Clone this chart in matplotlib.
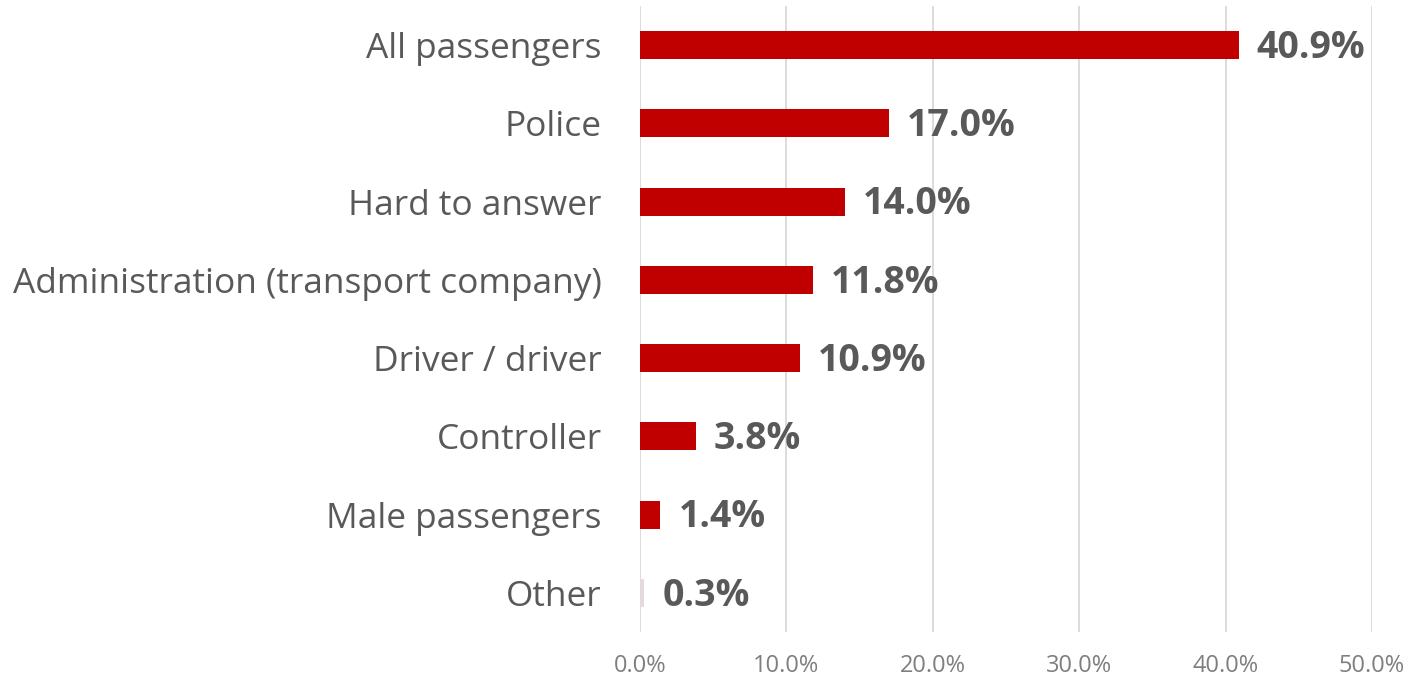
import matplotlib
matplotlib.use("Agg")
import matplotlib.pyplot as plt
from matplotlib.ticker import FuncFormatter

categories = ["All passengers", "Police", "Hard to answer",
              "Administration (transport company)", "Driver / driver",
              "Controller", "Male passengers", "Other"]
values = [40.9, 17.0, 14.0, 11.8, 10.9, 3.8, 1.4, 0.3]
bar_colors = ["#C00000"] * 7 + ["#E2DADE"]
xticks = [0, 10, 20, 30, 40, 50]

plt.rcParams['font.family'] = ['Open Sans', 'DejaVu Sans']

fig = plt.figure(figsize=(14.10, 6.79), dpi=100)
ax = fig.add_axes([0.4539, 0.0692, 0.9730 - 0.4539, 0.9912 - 0.0692])

y = list(range(len(categories)))
ax.barh(y, values, height=0.36, color=bar_colors, zorder=3)
ax.set_ylim(len(categories) - 0.5, -0.5)
ax.set_xlim(0, 50)
ax.set_xticks(xticks)
ax.xaxis.set_major_formatter(FuncFormatter(lambda v, p: f"{v:.1f}%"))
ax.set_yticks(y)
ax.set_yticklabels(categories, fontsize=25.4, color="#595959")
ax.tick_params(axis='x', labelsize=17, colors="#7F7F7F", length=0, pad=16)
ax.tick_params(axis='y', length=0, pad=27.5)
ax.grid(axis='x', color="#D9D9D9", linewidth=1.3, zorder=0)
for s in ax.spines.values():
    s.set_visible(False)

for yi, v in zip(y, values):
    ax.annotate(f"{v:.1f}%", xy=(v, yi), xytext=(13, -2), textcoords="offset points",
                ha="left", va="center", fontsize=27, fontweight="bold", color="#595959")

fig.savefig("out.png", dpi=100)
